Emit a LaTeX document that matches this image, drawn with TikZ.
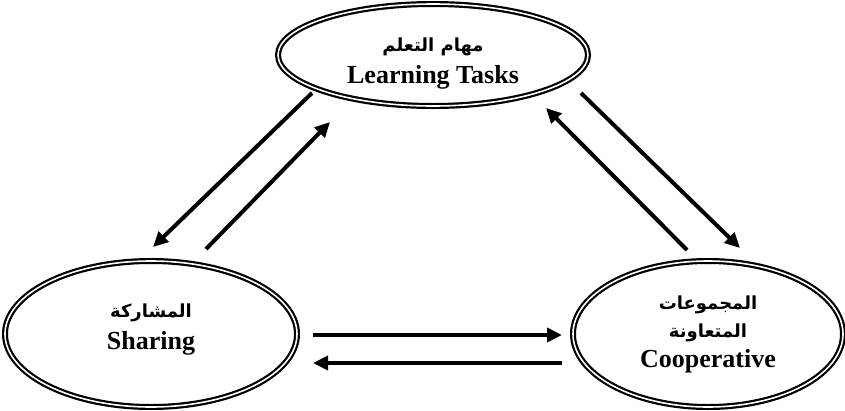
\documentclass[tikz,border=0pt]{standalone}
\usepackage{fontspec}
\usepackage{tikz}
\usetikzlibrary{shapes.geometric,arrows.meta}
\setmainfont{Liberation Serif}
\newfontfamily\arabicfont[Script=Arabic]{DejaVu Sans}
\TeXXeTstate=1
\newcommand{\ar}[1]{{\arabicfont\bfseries\fontsize{18}{24}\selectfont\beginR #1\endR}}
\newcommand{\down}[2]{\raisebox{-#1}[\height][\depth]{#2}}

\begin{document}
\begin{tikzpicture}[x=1pt,y=-1pt,
  circ/.style={ellipse,draw,double,line width=2.2pt,double distance=1.6pt,
    inner sep=0pt,align=center,font=\bfseries\fontsize{26}{28}\selectfont},
  flow/.style={line width=4pt,-{Triangle[length=15pt,width=14pt]}}]
\useasboundingbox (0,0) rectangle (845,410);
\node [circ,minimum width=310pt,minimum height=102pt] (tasks) at (433,55) {\down{9pt}{\ar{مهام التعلم}}\\[4pt]\down{9pt}{Learning Tasks}};
\node [circ,minimum width=292pt,minimum height=146pt] (sharing) at (151,334) {\down{-4pt}{\ar{المشاركة}}\\[4pt]\down{-4pt}{Sharing}};
\node [circ,minimum width=270pt,minimum height=146pt] (coop) at (708,334) {\ar{المجموعات}\\\ar{المتعاونة}\\[2pt]Cooperative};
\coordinate (ts1) at (312,93);
\coordinate (ts2) at (153,247);
\coordinate (st1) at (206,249);
\coordinate (st2) at (330,122);
\coordinate (tc1) at (581,93);
\coordinate (tc2) at (740,248);
\coordinate (ct1) at (687,250);
\coordinate (ct2) at (546,108);
\coordinate (sc1) at (313,335);
\coordinate (sc2) at (562,335);
\coordinate (cs1) at (562,363);
\coordinate (cs2) at (313,363);
\draw [flow] (ts1) -- (ts2);
\draw [flow] (st1) -- (st2);
\draw [flow] (tc1) -- (tc2);
\draw [flow] (ct1) -- (ct2);
\draw [flow] (sc1) -- (sc2);
\draw [flow] (cs1) -- (cs2);
\end{tikzpicture}
\end{document}
